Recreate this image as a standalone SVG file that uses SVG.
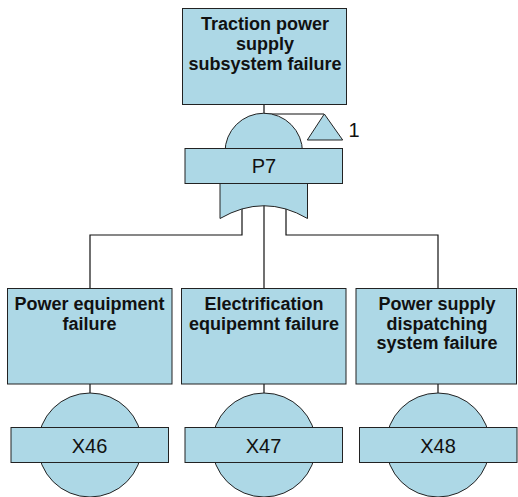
<svg xmlns="http://www.w3.org/2000/svg" width="518" height="497" viewBox="0 0 518 497">
<style>
.s{fill:#ADD8E6;stroke:#222;stroke-width:1}
.b{font-family:"Liberation Sans",Arial,sans-serif;font-weight:bold;font-size:18px;text-anchor:middle;fill:#111}
.r{font-family:"Liberation Sans",Arial,sans-serif;font-size:20px;text-anchor:middle;fill:#111}
.c{fill:none;stroke:#111;stroke-width:1.2}
</style>
<rect width="518" height="497" fill="#fff"/>
<g id="connectors">
<path class="c" d="M264,104V114H324"/>
<path class="c" d="M264,200V288"/>
<path class="c" d="M242,205V235H90V288"/>
<path class="c" d="M286,205V235H438V288"/>
<path class="c" d="M90,384V393"/>
<path class="c" d="M264,384V393"/>
<path class="c" d="M438,384V393"/>
</g>
<g id="top">
<rect class="s" x="182.5" y="8.5" width="164" height="96"/>
<text class="b" x="265" y="30">Traction power</text>
<text class="b" x="265" y="50">supply</text>
<text class="b" x="265" y="70">subsystem failure</text>
</g>
<g id="transfer">
<path class="s" d="M324.3,114L307.3,140H342.7Z"/>
<text class="r" x="354" y="136.5">1</text>
</g>
<g id="P7">
<path class="s" d="M225,152A38.7,38.7 0 0 1 302.5,152Z"/>
<path class="s" d="M220,180V218.5Q264,193 307.5,218.5V180Z"/>
<rect class="s" x="185" y="148.5" width="157.5" height="35"/>
<text class="r" x="264" y="173">P7</text>
</g>
<g id="n1">
<rect class="s" x="7.5" y="288.5" width="164.5" height="95.5"/>
<text class="b" x="89.5" y="310">Power equipment</text>
<text class="b" x="89.5" y="330">failure</text>
</g>
<g id="n2">
<rect class="s" x="181.5" y="288.5" width="164.5" height="95.5"/>
<text class="b" x="264" y="310">Electrification</text>
<text class="b" x="264" y="330">equipemnt failure</text>
</g>
<g id="n3">
<rect class="s" x="356" y="288.5" width="160.5" height="95.5"/>
<text class="b" x="437" y="310">Power supply</text>
<text class="b" x="437" y="329.5">dispatching</text>
<text class="b" x="437" y="349">system failure</text>
</g>
<g id="X46">
<circle class="s" cx="90" cy="445" r="52"/>
<rect class="s" x="11" y="427.5" width="157.5" height="35"/>
<text class="r" x="89.5" y="452.5">X46</text>
</g>
<g id="X47">
<circle class="s" cx="264" cy="445" r="52"/>
<rect class="s" x="185" y="427.5" width="157.5" height="35"/>
<text class="r" x="263.5" y="452.5">X47</text>
</g>
<g id="X48">
<circle class="s" cx="438" cy="445" r="52"/>
<rect class="s" x="359.5" y="427.5" width="157.5" height="35"/>
<text class="r" x="438" y="452.5">X48</text>
</g>
</svg>
